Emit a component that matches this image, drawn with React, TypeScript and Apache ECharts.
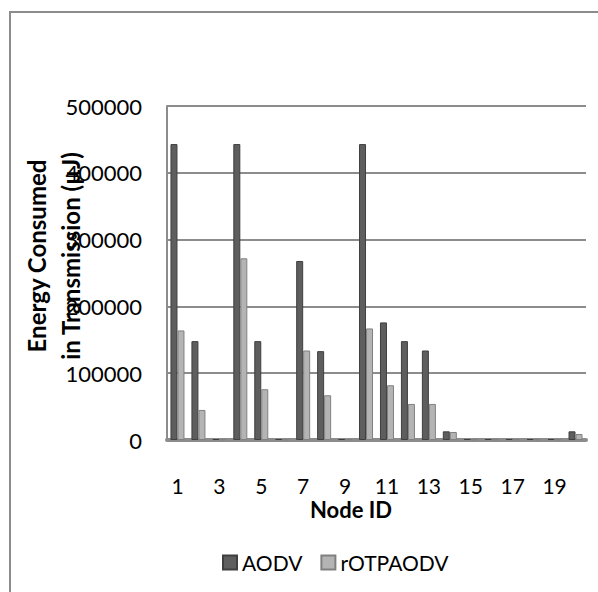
import React, { useEffect, useRef } from "react";
import * as echarts from "echarts";

const categories = ["1","2","3","4","5","6","7","8","9","10","11","12","13","14","15","16","17","18","19","20"];
const aodv = [443000, 148000, 1500, 443000, 148000, 1500, 268000, 133000, 1500, 443000, 176000, 148000, 134000, 13000, 1500, 1500, 1500, 1500, 1500, 13000];
const rotpaodv = [164000, 45000, 1000, 272000, 76000, 1000, 134000, 67000, 1000, 167000, 82000, 54000, 54000, 12000, 1000, 1000, 1000, 1000, 1000, 9000];
const yTicks = { min: 0, max: 500000, interval: 100000 };

const FONT = "Lato, 'Liberation Sans', sans-serif";

export default function App() {
  const ref = useRef<HTMLDivElement>(null);
  useEffect(() => {
    if (!ref.current) return;
    const chart = echarts.init(ref.current, null, { renderer: "svg" });
    chart.setOption({
      animation: false,
      backgroundColor: "#ffffff",
      textStyle: { fontFamily: FONT },
      grid: { left: 167, right: 12, top: 106, bottom: 152, containLabel: false },
      legend: {
        data: ["AODV", "rOTPAODV"],
        left: 217,
        top: 547,
        icon: "rect",
        itemWidth: 14,
        itemHeight: 14,
        itemGap: 18,
        textStyle: { fontFamily: FONT, fontSize: 21, color: "#000" },
      },
      xAxis: {
        type: "category",
        data: categories,
        boundaryGap: true,
        axisLine: { show: true, lineStyle: { color: "#8c8c8c", width: 4 } },
        axisTick: { show: false },
        axisLabel: {
          interval: 1,
          margin: 36,
          fontFamily: FONT,
          fontSize: 21,
          lineHeight: 18,
          color: "#000",
        },
      },
      yAxis: {
        type: "value",
        min: yTicks.min,
        max: yTicks.max,
        interval: yTicks.interval,
        axisLine: { show: true, lineStyle: { color: "#8c8c8c", width: 2 } },
        axisTick: { show: false },
        splitLine: { show: true, lineStyle: { color: "#8c8c8c", width: 2 } },
        axisLabel: {
          margin: 25,
          fontFamily: FONT,
          fontSize: 22,
          color: "#000",
          padding: [10, 0, 0, 0],
          formatter: (v: number) => String(v),
        },
      },
      graphic: [
        {
          type: "rect",
          shape: { x: 10, y: 12, width: 800, height: 800 },
          style: { fill: "none", stroke: "#8c8c8c", lineWidth: 2 },
          silent: true,
        },
        {
          type: "text",
          x: 53,
          y: 256,
          rotation: Math.PI / 2,
          style: {
            text: "Energy Consumed\nin Transmission (µJ)",
            fontFamily: FONT,
            fontWeight: "bold",
            fontSize: 24,
            lineHeight: 34,
            fill: "#000",
            align: "center",
            verticalAlign: "middle",
          },
        },
        {
          type: "text",
          x: 351,
          y: 509,
          style: {
            text: "Node ID",
            fontFamily: FONT,
            fontWeight: "bold",
            fontSize: 22,
            lineHeight: 20,
            fill: "#000",
            align: "center",
            verticalAlign: "middle",
          },
        },
      ],
      series: [
        {
          name: "AODV",
          type: "bar",
          data: aodv,
          barWidth: 7,
          barGap: "0%",
          itemStyle: { color: "#5e5e5e", borderColor: "#3f3f3f", borderWidth: 1 },
        },
        {
          name: "rOTPAODV",
          type: "bar",
          data: rotpaodv,
          barWidth: 7,
          itemStyle: { color: "#b4b4b4", borderColor: "#808080", borderWidth: 1 },
        },
      ],
    });
    return () => chart.dispose();
  }, []);
  return (
    <div
      ref={ref}
      style={{ position: "fixed", left: 0, top: 0, width: 598, height: 592 }}
    />
  );
}
